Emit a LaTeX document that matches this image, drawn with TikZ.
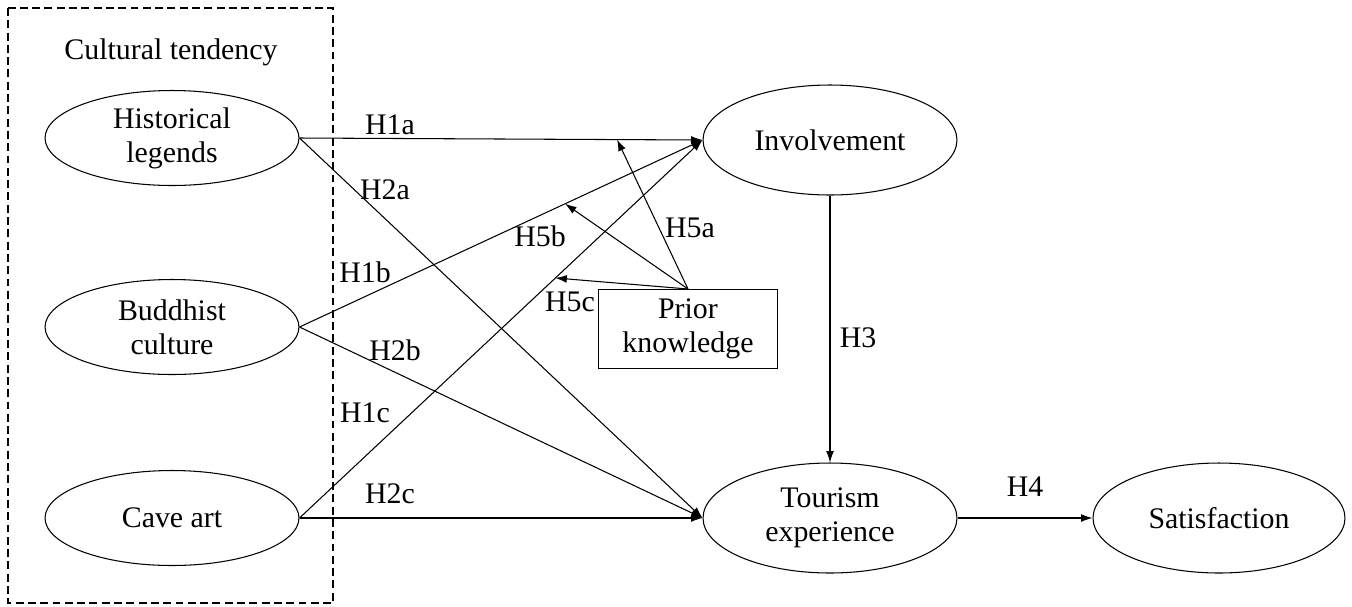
\documentclass[tikz,border=0pt]{standalone}
\usepackage{fontspec}
\setmainfont{Liberation Serif}
\usetikzlibrary{shapes.geometric,arrows.meta}

\begin{document}
\begin{tikzpicture}[x=0.02cm, y=-0.02cm, font=\fontsize{17}{19.5}\selectfont,
    >={Latex[length=6.5pt,width=4.5pt]}, line width=0.6pt]
    \useasboundingbox (0,0) rectangle (1352,606);

    \tikzstyle{enode} = [draw, ellipse, inner sep = 0pt, minimum width = 5.08cm, minimum height = 1.9cm, align=center]
    \tikzstyle{bnode} = [enode, minimum height = 2.2cm]
    \tikzstyle{rnode} = [draw, rectangle, inner sep = 2pt, minimum width = 3.58cm, minimum height = 1.58cm, align=center]
    \tikzstyle{lnode} = [inner sep = 1pt]

    % grouping frame
    \draw[dashed, dash pattern=on 4.5pt off 2.5pt] (8,8) rectangle (333,603);
    \node[lnode] (ct) at (171,52) {Cultural tendency};

    \node[enode] (hist) at (172,138) {Historical\\legends};
    \node[enode] (budd) at (172,327) {Buddhist\\culture};
    \node[enode] (cave) at (172,518) {Cave art};

    \node[bnode] (inv) at (830,140) {Involvement};
    \node[bnode] (tour) at (830,518) {Tourism\\experience};
    \node[bnode, minimum width = 5.04cm] (sat) at (1219,518) {Satisfaction};

    \node[rnode] (prior) at (688,329) {Prior\\knowledge};

    % edge cultural tendency to involvement / experience
    \draw[->] (hist.east) -- (inv.west);
    \draw[->] (hist.east) -- (tour.west);
    \draw[->] (budd.east) -- (inv.west);
    \draw[->] (budd.east) -- (tour.west);
    \draw[->] (cave.east) -- (inv.west);
    \draw[->] (cave.east) -- (tour.west);

    \draw[->] (inv.south) -- (tour.north);
    \draw[->] (tour.east) -- (sat.west);

    % moderation by prior knowledge
    \path (hist.east) -- coordinate[pos=0.788] (m5a) (inv.west);
    \path (budd.east) -- coordinate[pos=0.659] (m5b) (inv.west);
    \path (cave.east) -- coordinate[pos=0.635] (m5c) (inv.west);
    \draw[->] (prior.north) -- (m5a);
    \draw[->] (prior.north) -- (m5b);
    \draw[->] (prior.north) -- (m5c);

    \node[lnode] (h1a) at (390,125) {H1a};
    \node[lnode] (h2a) at (385,190) {H2a};
    \node[lnode] (h1b) at (365,272) {H1b};
    \node[lnode] (h2b) at (395,350) {H2b};
    \node[lnode] (h1c) at (365,413) {H1c};
    \node[lnode] (h2c) at (390,494) {H2c};
    \node[lnode] (h3) at (858,338) {H3};
    \node[lnode] (h4) at (1025,487) {H4};
    \node[lnode] (h5a) at (690,228) {H5a};
    \node[lnode] (h5b) at (540,236) {H5b};
    \node[lnode] (h5c) at (570,302) {H5c};
\end{tikzpicture}
\end{document}
